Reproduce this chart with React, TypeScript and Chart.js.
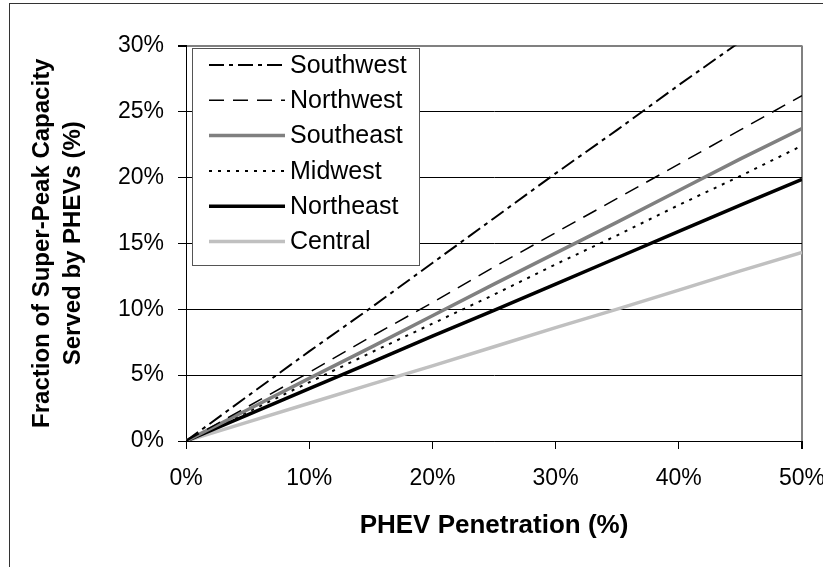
import React, { useEffect, useRef } from "react";
import { Chart, registerables } from "chart.js";

Chart.register(...registerables);

const xValues = [0, 5, 10, 15, 20, 25, 30, 35, 40, 45, 50];
const southwest = [0, 3.4, 6.8, 10.1, 13.5, 16.9, 20.3, 23.6, 27.0, 30.3, 33.7];
const northwest = [0, 2.6, 5.2, 7.9, 10.5, 13.2, 15.8, 18.4, 21.0, 23.6, 26.2];
const southeast = [0, 2.37, 4.75, 7.1, 9.5, 11.9, 14.25, 16.6, 19.0, 21.4, 23.7];
const midwest = [0, 2.2, 4.45, 6.7, 8.9, 11.1, 13.4, 15.6, 17.9, 20.1, 22.4];
const northeast = [0, 1.98, 3.97, 5.95, 7.95, 9.9, 11.9, 13.9, 15.9, 17.9, 19.85];
const central = [0, 1.43, 2.86, 4.3, 5.7, 7.15, 8.6, 10.0, 11.45, 12.9, 14.3];

const seriesNames = ["Southwest", "Northwest", "Southeast", "Midwest", "Northeast", "Central"];
const xTitle = "PHEV Penetration (%)";
const yTitleLines = ["Fraction of Super-Peak Capacity", "Served by PHEVs (%)"];

const FONT = "'Liberation Sans', Arial, Helvetica, sans-serif";

const styles = [
  { color: "#000000", width: 2, dash: [15, 5, 4, 5] },
  { color: "#000000", width: 1.5, dash: [15, 9] },
  { color: "#808080", width: 3.5, dash: [] as number[] },
  { color: "#000000", width: 2, dash: [3, 6] },
  { color: "#000000", width: 3.5, dash: [] as number[] },
  { color: "#c0c0c0", width: 3.5, dash: [] as number[] },
];

const allSeries = [southwest, northwest, southeast, midwest, northeast, central];

const overlayPlugin = {
  id: "overlay",
  afterDraw(chart: any) {
    const ctx = chart.ctx as CanvasRenderingContext2D;
    const area = chart.chartArea;
    ctx.save();
    // legend box
    const bx = area.left + 6;
    const by = area.top + 2.5;
    const bw = 227;
    const bh = 217;
    ctx.fillStyle = "#ffffff";
    ctx.fillRect(bx, by, bw, bh);
    ctx.strokeStyle = "#555555";
    ctx.lineWidth = 1;
    ctx.setLineDash([]);
    ctx.strokeRect(Math.round(bx) + 0.5, Math.round(by) + 0.5, bw, bh);
    chart.data.datasets.forEach((ds: any, i: number) => {
      const y = by + 17 + i * 35.3;
      ctx.beginPath();
      ctx.strokeStyle = ds.borderColor;
      ctx.lineWidth = ds.borderWidth;
      ctx.setLineDash(ds.borderDash || []);
      ctx.moveTo(bx + 17, y);
      ctx.lineTo(bx + 93, y);
      ctx.stroke();
      ctx.setLineDash([]);
      ctx.fillStyle = "#000000";
      ctx.font = `25px ${FONT}`;
      ctx.textAlign = "left";
      ctx.textBaseline = "middle";
      ctx.fillText(ds.label, bx + 98, y + 1);
    });
    // x title
    ctx.fillStyle = "#000000";
    ctx.font = `bold 26px ${FONT}`;
    ctx.textAlign = "center";
    ctx.textBaseline = "middle";
    ctx.fillText(xTitle, (area.left + area.right) / 2, 526);
    // y title
    ctx.save();
    ctx.translate(0, (area.top + area.bottom) / 2);
    ctx.rotate(-Math.PI / 2);
    ctx.font = `bold 24px ${FONT}`;
    ctx.fillText(yTitleLines[0], 0, 42);
    ctx.fillText(yTitleLines[1], 0, 73);
    ctx.restore();
    ctx.restore();
  },
};

export default function App() {
  const ref = useRef<HTMLCanvasElement | null>(null);
  useEffect(() => {
    document.body.style.overflow = "hidden";
    const canvas = ref.current!;
    const chart = new Chart(canvas, {
      type: "line",
      data: {
        datasets: allSeries.map((s, i) => ({
          label: seriesNames[i],
          data: xValues.map((x, j) => ({ x, y: s[j] })),
          borderColor: styles[i].color,
          borderWidth: styles[i].width,
          borderDash: styles[i].dash,
          pointRadius: 0,
          tension: 0,
          fill: false,
        })),
      },
      options: {
        animation: false,
        responsive: false,
        maintainAspectRatio: false,
        layout: { padding: { left: 0, right: 21, top: 45.5, bottom: 0 } },
        plugins: { legend: { display: false }, tooltip: { enabled: false } },
        scales: {
          x: {
            type: "linear",
            min: 0,
            max: 50,
            afterFit: (s: any) => {
              s.height = 126;
              s.paddingLeft = 0;
              s.paddingRight = 0;
            },
            ticks: {
              stepSize: 10,
              padding: 16,
              color: "#000",
              font: { family: FONT, size: 23 },
              callback: (v: any) => v + "%",
              maxRotation: 0,
            },
            grid: {
              drawOnChartArea: true,
              drawTicks: true,
              tickLength: 8,
              color: (c: any) => (c.tick && c.tick.value === 50 ? "#808080" : "rgba(0,0,0,0)"),
              lineWidth: (c: any) => (c.tick && c.tick.value === 50 ? 2 : 1),
              tickColor: "#000",
            },
            border: { display: true, color: "#000", width: 1 },
          },
          y: {
            type: "linear",
            min: 0,
            max: 30,
            afterFit: (s: any) => {
              s.width = 186;
              s.paddingTop = 0;
              s.paddingBottom = 0;
            },
            ticks: {
              stepSize: 5,
              padding: 14,
              color: "#000",
              font: { family: FONT, size: 23 },
              callback: (v: any) => v + "%",
            },
            grid: {
              drawTicks: true,
              tickLength: 8,
              color: (c: any) => (c.tick && c.tick.value === 30 ? "#808080" : "#000"),
              lineWidth: (c: any) => (c.tick && c.tick.value === 30 ? 2 : 1),
              tickColor: "#000",
            },
            border: { display: true, color: "#000", width: 1 },
          },
        },
      },
      plugins: [overlayPlugin],
    } as any);
    return () => chart.destroy();
  }, []);
  return (
    <div>
      <div
        style={{
          position: "fixed",
          left: 9,
          top: 3,
          width: 840,
          height: 600,
          border: "1px solid #333",
          boxSizing: "border-box",
        }}
      />
      <canvas
        ref={ref}
        width={823}
        height={567}
        style={{ position: "fixed", left: 0, top: 0, width: 823, height: 567 }}
      />
    </div>
  );
}
